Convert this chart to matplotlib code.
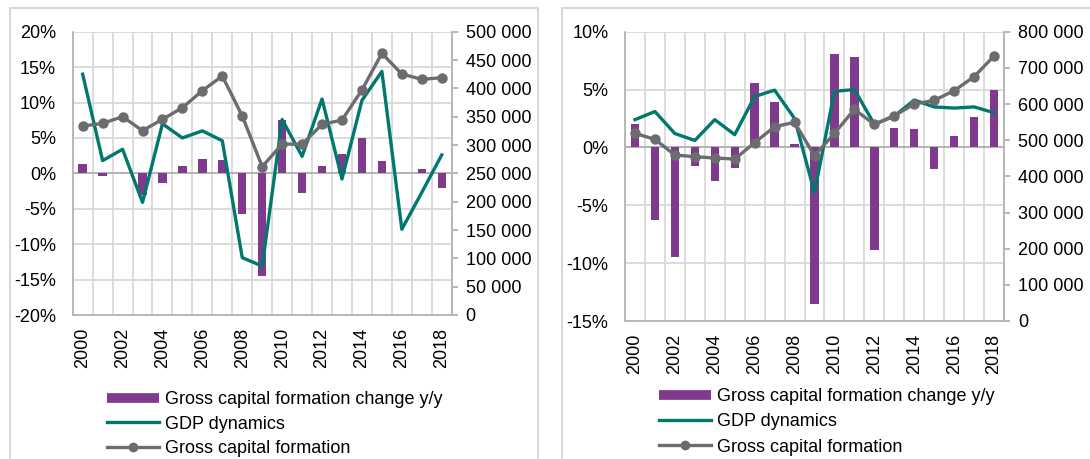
import numpy as np
import matplotlib
matplotlib.use("Agg")
import matplotlib.pyplot as plt
from matplotlib.patches import Rectangle
from matplotlib.lines import Line2D
from matplotlib.ticker import FuncFormatter

plt.rcParams.update({
    "font.family": ["Liberation Sans", "DejaVu Sans"],
    "font.size": 13,
})

# ============ data ============
years = list(range(2000, 2019))

left_change = [1.3, -0.4, 0.0, -3.0, -1.3, 1.0, 2.0, 1.9, -5.8, -14.5,
               7.6, -2.8, 1.1, 2.8, 5.0, 1.7, 0.0, 0.6, -2.0]
left_gdp = [14.0, 1.8, 3.4, -4.1, 7.0, 5.0, 6.0, 4.6, -11.9, -13.1,
            7.6, 2.4, 10.5, -0.8, 10.3, 14.4, -7.9, -2.7, 2.6]
left_gcf = [333500, 338200, 350000, 325300, 345300, 365900, 395900, 421800, 351200, 261800,
            301800, 301200, 336500, 344100, 397100, 461800, 425300, 415900, 418800]

right_change = [2.0, -6.25, -9.5, -1.6, -2.9, -1.8, 5.6, 3.9, 0.3, -13.5,
                8.1, 7.8, -8.9, 1.65, 1.55, -1.85, 1.0, 2.6, 5.0]
right_gdp = [2.4, 3.1, 1.2, 0.6, 2.4, 1.1, 4.4, 4.95, 2.5, -3.9,
             4.85, 5.0, 2.0, 2.7, 4.1, 3.5, 3.4, 3.5, 3.0]
right_gcf = [518900, 502300, 459000, 454400, 450700, 447900, 493100, 537300, 549300, 457100,
             518900, 585300, 543800, 567700, 600000, 610100, 636900, 675600, 732700]

labels = ["Gross capital formation change y/y", "GDP dynamics", "Gross capital formation"]

# colours
PURPLE = "#7F3A8E"
TEAL = "#00786E"
GRAY = "#6C6C70"
GRID = "#D9D9D9"
AXIS = "#B3B3B3"

W, H = 1090, 459
fig = plt.figure(figsize=(W / 100, H / 100), dpi=100)


def px(x0, y0, x1, y1):
    # pixel box -> figure fraction rect
    return [x0 / W, 1 - y1 / H, (x1 - x0) / W, (y1 - y0) / H]


def draw_panel(rect, change, gdp, gcf, ylo, yhi, ystep, y2hi, y2step, leg_xy, spacing):
    ax = fig.add_axes(rect)
    x = np.arange(len(years))
    ax.bar(x, change, width=0.42, color=PURPLE, zorder=2)
    ax.plot(x, gdp, color=TEAL, lw=2.4, zorder=3)

    ax.set_xlim(-0.5, len(years) - 0.5)
    ax.set_ylim(ylo, yhi)
    ax.set_yticks(np.arange(ylo, yhi + 0.1, ystep))
    ax.yaxis.set_major_formatter(FuncFormatter(lambda v, p: f"{v:.0f}%"))
    ax.set_xticks(x[::2])
    ax.set_xticklabels([str(y) for y in years[::2]], rotation=90)
    ax.set_xticks(np.arange(-0.5, len(years)), minor=True)

    ax.set_axisbelow(True)
    ax.grid(which="minor", axis="x", color=GRID, lw=1.3)
    ax.grid(which="major", axis="y", color=GRID, lw=1.3)
    ax.tick_params(which="both", length=0)
    ax.tick_params(axis="y", pad=12)
    ax.tick_params(axis="x", pad=9)
    ax.axhline(0, color=AXIS, lw=1.4, zorder=1.5)
    for s in ["top", "right"]:
        ax.spines[s].set_visible(False)
    for s in ["left", "bottom"]:
        ax.spines[s].set_color(AXIS)
        ax.spines[s].set_linewidth(1.3)

    ax2 = ax.twinx()
    ax2.plot(x, gcf, color=GRAY, lw=2.4, marker="o", ms=6.5, zorder=4)
    ax2.set_ylim(0, y2hi)
    ax2.set_yticks(np.arange(0, y2hi + 1, y2step))
    ax2.yaxis.set_major_formatter(FuncFormatter(lambda v, p: f"{int(v):,}".replace(",", " ")))
    ax2.tick_params(axis="y", length=4, color=AXIS, width=1.3, pad=6)
    for s in ["top", "left", "bottom"]:
        ax2.spines[s].set_visible(False)
    ax2.spines["right"].set_color(AXIS)
    ax2.spines["right"].set_linewidth(1.3)

    handles = [
        Line2D([], [], color=PURPLE, lw=7, solid_capstyle="butt"),
        Line2D([], [], color=TEAL, lw=2.4),
        Line2D([], [], color=GRAY, lw=2.4, marker="o", ms=6),
    ]
    fig.legend(handles, labels, loc="upper left",
               bbox_to_anchor=(leg_xy[0] / W, 1 - leg_xy[1] / H),
               frameon=False, borderpad=0, borderaxespad=0,
               handlelength=2.9, handletextpad=0.3, labelspacing=spacing,
               fontsize=13)
    return ax, ax2


# panel borders
fig.add_artist(Rectangle((10 / W, -0.05), 528 / W, 1 - 8 / H + 0.05,
                         transform=fig.transFigure, fill=False,
                         edgecolor=GRID, lw=1.5))
fig.add_artist(Rectangle((562 / W, -0.05), 600 / W, 1 - 8 / H + 0.05,
                         transform=fig.transFigure, fill=False,
                         edgecolor=GRID, lw=1.5))

draw_panel(px(72.7, 31.7, 451.7, 315), left_change, left_gdp, left_gcf,
           -20, 20, 5, 500000, 50000, (107, 391), 0.42)
draw_panel(px(625, 31.7, 1004, 321), right_change, right_gdp, right_gcf,
           -15, 10, 5, 800000, 100000, (659, 388), 0.46)

fig.savefig("out.png", dpi=100)
